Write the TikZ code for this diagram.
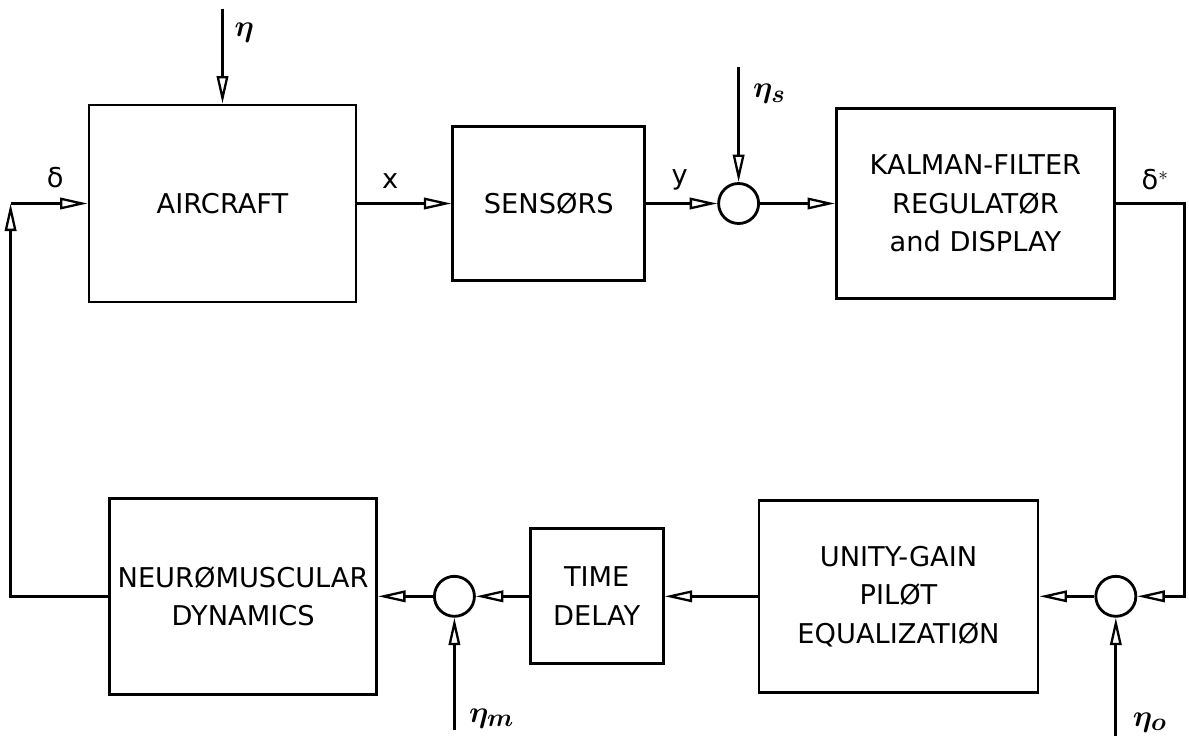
\documentclass[tikz,border=0pt]{standalone}
\usepackage{fontspec}
\setmainfont{DejaVu Sans}
\usepackage{tikz}
\usetikzlibrary{arrows.meta,positioning,calc}
\tikzset{
  block/.style   = {draw, line width=1.6pt, rectangle, align=center, inner sep=3pt},
  sumnode/.style = {draw, line width=1.6pt, circle, inner sep=0pt, minimum size=0.8cm},
  sig/.style     = {-{Triangle[open, length=5.5mm, width=2.3mm, line width=1.3pt]}, line width=1.6pt},
  lbl/.style     = {inner sep=1pt},
  nlbl/.style    = {inner sep=1pt, font=\fontsize{19}{22}\selectfont\boldmath},
}

\begin{document}
\begin{tikzpicture}[font=\fontsize{15.5}{22}\selectfont]
\useasboundingbox (0,0) rectangle (23.78,-14.72);
% forward path
\node[block, minimum width=5.34cm, minimum height=3.94cm] (air) at (4.45,-4.07) {AIRCRAFT};
\node[block, right=1.88cm of air, minimum width=3.84cm, minimum height=3.08cm] (sen) {SENSØRS};
\node[sumnode, right=1.42cm of sen] (s1) {};
\node[block, right=1.5cm of s1, minimum width=5.56cm, minimum height=3.8cm] (kal)
  {KALMAN-FILTER\\REGULATØR\\and DISPLAY};
% pilot path
\node[sumnode, below=5.5cm of kal.south east, anchor=north] (s2) {};
\node[block, left=1.1cm of s2, minimum width=5.58cm, minimum height=3.84cm] (peq)
  {UNITY-GAIN\\PILØT\\EQUALIZATIØN};
\node[block, left=1.86cm of peq, minimum width=2.66cm, minimum height=2.7cm] (tdl) {TIME\\DELAY};
\node[sumnode, left=1.06cm of tdl] (s3) {};
\node[block, left=1.1cm of s3, minimum width=5.34cm, minimum height=3.92cm] (nms)
  {NEURØMUSCULAR\\DYNAMICS};
% noise inputs
\coordinate[above=1.9cm of air.north] (na);
\coordinate[above=2.3cm of s1.north] (ns);
\coordinate[below=2.25cm of s3.south] (nm);
\coordinate[below=2.45cm of s2.south] (no);
\node[nlbl, below right=0.25cm and 0.2cm of na] (lna) {$\eta$};
\node[nlbl, below right=0.3cm and 0.25cm of ns] (lns) {$\eta_s$};
\node[nlbl, above right=0.0cm and 0.25cm of nm] (lnm) {$\eta_m$};
\node[nlbl, above right=0.12cm and 0.3cm of no] (lno) {$\eta_o$};
\coordinate (cl) at ($(air.west)+(-1.54,0)$);
\draw[sig] (na) -- (air.north);
\draw[sig] (ns) -- (s1.north);
\draw[sig] (nm) -- (s3.south);
\draw[sig] (no) -- (s2.south);
% connections
\draw[sig] (air) -- node[lbl, above=7pt, pos=0.35] {x} (sen);
\draw[sig] (sen) -- node[lbl, above=6pt, pos=0.47] {y} (s1);
\draw[sig] (s1) -- (kal);
\draw[sig] (kal.east) -- node[lbl, above=6pt, pos=0.57] {δ$^{*}$} ++(1.38,0) |- (s2.east);
\draw[sig] (s2) -- (peq);
\draw[sig] (peq) -- (tdl);
\draw[sig] (tdl) -- (s3);
\draw[sig] (s3) -- (nms);
\draw[sig] (nms.west) -| (cl);
\draw[sig] (cl) -- node[lbl, above=7pt, pos=0.58] {δ} (air.west);
\end{tikzpicture}
\end{document}
